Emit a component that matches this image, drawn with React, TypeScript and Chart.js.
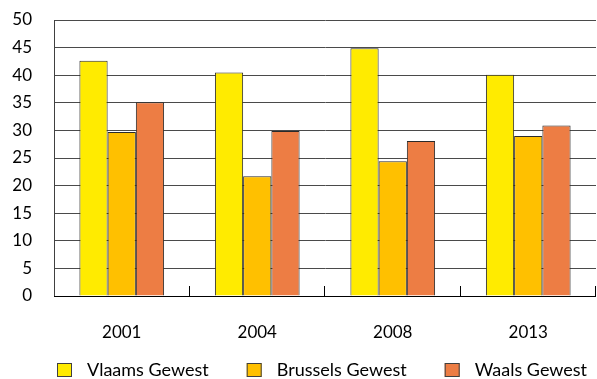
import React, { useEffect, useRef } from "react";
import { Chart, registerables } from "chart.js";

Chart.register(...registerables);

const categories = ["2001", "2004", "2008", "2013"];
const seriesNames = ["Vlaams Gewest", "Brussels Gewest", "Waals Gewest"];
const vlaams = [42.6, 40.5, 44.9, 40.1];
const brussels = [29.7, 21.7, 24.4, 29.0];
const waals = [35.1, 29.9, 28.1, 30.9];
const yTicks = [0, 5, 10, 15, 20, 25, 30, 35, 40, 45, 50];
const colors = ["#FFEB00", "#FFC000", "#ED7D44"];

const FONT = "Lato";

const innerTicks = {
  id: "innerTicks",
  afterDatasetsDraw(chart: any) {
    const x = chart.scales.x;
    const area = chart.chartArea;
    const ctx = chart.ctx;
    const n = categories.length;
    ctx.save();
    ctx.strokeStyle = "#000";
    ctx.lineWidth = 1;
    for (let i = 1; i <= n; i++) {
      const xx =
        i === n
          ? Math.round(area.right) - 0.5
          : Math.round(x.getPixelForValue(i - 0.5)) - 0.5;
      ctx.beginPath();
      ctx.moveTo(xx, area.bottom);
      ctx.lineTo(xx, area.bottom - 10);
      ctx.stroke();
    }
    ctx.beginPath();
    ctx.moveTo(area.left, Math.round(area.bottom) + 0.5);
    ctx.lineTo(area.right, Math.round(area.bottom) + 0.5);
    ctx.stroke();
    ctx.restore();
  },
};

const customLegend = {
  id: "customLegend",
  afterDraw(chart: any) {
    const ctx = chart.ctx;
    const area = chart.chartArea;
    ctx.save();
    ctx.font = `18px ${FONT}`;
    ctx.textBaseline = "middle";
    ctx.textAlign = "left";
    let x = area.left + 3;
    const boxTop = 363;
    const boxW = 15;
    const boxH = 14;
    chart.data.datasets.forEach((ds: any) => {
      ctx.fillStyle = ds.backgroundColor;
      ctx.fillRect(x, boxTop, boxW, boxH);
      ctx.strokeStyle = "#404040";
      ctx.lineWidth = 1;
      ctx.strokeRect(x + 0.5, boxTop + 0.5, boxW - 1, boxH - 1);
      const tx = x + boxW + 15;
      ctx.fillStyle = "#000";
      ctx.fillText(ds.label, tx, boxTop + boxH / 2);
      const w = ctx.measureText(ds.label).width;
      x = tx + w + 38;
    });
    ctx.restore();
  },
};

export default function App() {
  const ref = useRef<HTMLCanvasElement>(null);
  useEffect(() => {
    if (!ref.current) return;
    const data = [vlaams, brussels, waals];
    const chart = new Chart(ref.current, {
      type: "bar",
      data: {
        labels: categories,
        datasets: seriesNames.map((name, i) => ({
          label: name,
          data: data[i],
          backgroundColor: colors[i],
          borderColor: "#2a2a2a",
          borderWidth: 1,
          categoryPercentage: 0.625,
          barPercentage: 1.0,
        })),
      },
      options: {
        animation: false,
        responsive: false,
        devicePixelRatio: 1,
        layout: { padding: { top: 20, right: 1, left: 0, bottom: 0 } },
        plugins: { legend: { display: false }, tooltip: { enabled: false } },
        scales: {
          x: {
            grid: { display: false, drawTicks: false },
            border: { display: false },
            ticks: {
              font: { family: FONT, size: 17 },
              color: "#000",
              padding: 26,
            },
            afterFit(scale: any) {
              scale.height = 83;
              scale.paddingLeft = 0;
              scale.paddingRight = 0;
            },
          },
          y: {
            min: 0,
            max: 50,
            afterBuildTicks(scale: any) {
              scale.ticks = yTicks.map((v) => ({ value: v }));
            },
            grid: { color: "#4a4a4a", lineWidth: 1, drawTicks: false },
            border: { display: true, color: "#404040" },
            ticks: {
              font: { family: FONT, size: 17 },
              color: "#000",
              padding: 22,
            },
            afterFit(scale: any) {
              scale.width = 54;
              scale.paddingTop = 0;
              scale.paddingBottom = 0;
            },
          },
        },
      },
      plugins: [innerTicks, customLegend],
    });
    return () => chart.destroy();
  }, []);
  return (
    <div style={{ position: "fixed", left: 0, top: 0, width: 597, height: 379, background: "#fff" }}>
      <canvas ref={ref} width={597} height={379} style={{ width: 597, height: 379 }} />
    </div>
  );
}
